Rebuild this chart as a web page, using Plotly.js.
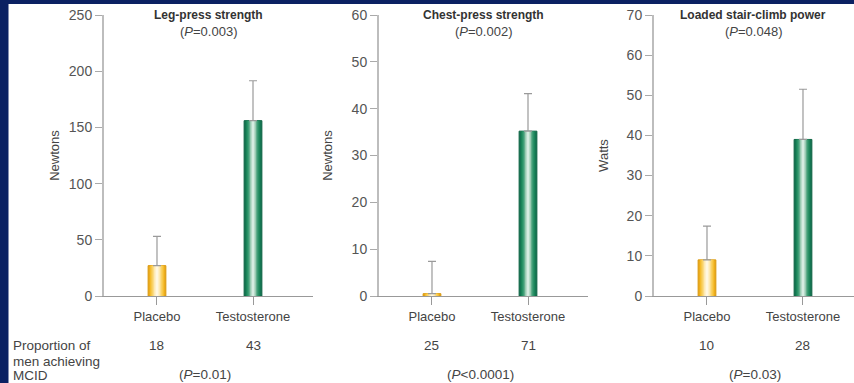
<!DOCTYPE html>
<html>
<head>
<meta charset="utf-8">
<script src="https://cdn.plot.ly/plotly-3.0.1.min.js"></script>
<style>html,body{margin:0;padding:0;background:#fff;}#chart{width:854px;height:383px;}</style>
</head>
<body>
<div id="chart"></div>
<script>
// ---- data ----
const groups = ['Placebo', 'Testosterone'];
const legPress = [27, 156];
const legPressErr = [26, 35.5];
const chestPress = [0.5, 35.2];
const chestPressErr = [6.9, 8];
const stairClimb = [9, 39];
const stairClimbErr = [8.4, 12.5];
const mcidLeg = ['18', '43'];
const mcidChest = ['25', '71'];
const mcidStair = ['10', '28'];
const panelTitles = ['Leg-press strength', 'Chest-press strength', 'Loaded stair-climb power'];
const panelP = ['(<i>P</i>=0.003)', '(<i>P</i>=0.002)', '(<i>P</i>=0.048)'];
const mcidP = ['(<i>P</i>=0.01)', '(<i>P</i><0.0001)', '(<i>P</i>=0.03)'];
const rowLabel = ['Proportion of', 'men achieving', 'MCID'];
const yTitles = ['Newtons', 'Newtons', 'Watts'];
const yMax = [250, 60, 70];
const yDtick = [50, 10, 10];

// ---- styling ----
const FONT = 'Liberation Sans, Arial, sans-serif';
const widths = [0.185, 0.15, 0.12, 0.09, 0.06, 0.03];
const yellow = ['#eaa91a', '#f5bd2e', '#f8cc55', '#fbdc88', '#fdebb8', '#fff7e0'];
const green  = ['#137250', '#1b8559', '#2f956b', '#62ae8c', '#a0ceb7', '#d6ece1'];
const standoffs = [6, 16, 15];

const panels = [
  {vals: legPress, err: legPressErr, mcid: mcidLeg},
  {vals: chestPress, err: chestPressErr, mcid: mcidChest},
  {vals: stairClimb, err: stairClimbErr, mcid: mcidStair}
];

const domains = [[104/854, 313/854], [379/854, 588/854], [654/854, 1]];
const ranges = [[-0.552, 1.625], [-0.552, 1.625], [-0.552, -0.552 + 200/96]];
const yDom = [87/383, 368/383];

const traces = [];
const layout = {
  width: 854, height: 383,
  margin: {l: 0, r: 0, t: 0, b: 0},
  paper_bgcolor: '#ffffff', plot_bgcolor: 'rgba(0,0,0,0)',
  barmode: 'overlay', showlegend: false,
  font: {family: FONT, color: '#444'},
  annotations: [],
  shapes: [
    {type: 'rect', xref: 'paper', yref: 'paper', x0: 0, x1: 8.5/854, y0: 0, y1: 1, fillcolor: '#0b2162', line: {width: 0}, layer: 'below'},
    {type: 'rect', xref: 'paper', yref: 'paper', x0: 0, x1: 1, y0: 379/383, y1: 1, fillcolor: '#0b2162', line: {width: 0}, layer: 'below'}
  ]
};

panels.forEach((p, i) => {
  const xa = 'x' + (i === 0 ? '' : i + 1);
  const ya = 'y' + (i === 0 ? '' : i + 1);
  widths.forEach((w, k) => {
    const tr = {
      type: 'bar', x: [0, 1], y: p.vals, xaxis: xa, yaxis: ya,
      width: [w, w],
      marker: {color: [yellow[k], green[k]], line: {width: k === 0 ? 1 : 0, color: ['#d9980f', '#0f6444']}},
      hoverinfo: 'skip'
    };
    if (k === widths.length - 1) {
      tr.error_y = {type: 'data', symmetric: false, array: p.err, arrayminus: [0, 0], color: '#9a9a9a', thickness: 1.2, width: 4};
    }
    traces.push(tr);
  });

  const xkey = 'xaxis' + (i === 0 ? '' : i + 1);
  const ykey = 'yaxis' + (i === 0 ? '' : i + 1);
  layout[xkey] = {
    domain: domains[i], range: ranges[i], anchor: ya,
    tickmode: 'array', tickvals: [0, 1], ticktext: groups,
    ticks: 'outside', ticklen: 8, tickcolor: '#999', tickwidth: 1,
    showline: true, linecolor: '#999', linewidth: 1.2,
    showgrid: false, zeroline: false, fixedrange: true,
    tickfont: {family: FONT, size: 13, color: '#444'}
  };
  layout[ykey] = {
    domain: yDom, range: [0, yMax[i]], anchor: xa,
    tickmode: 'linear', tick0: 0, dtick: yDtick[i],
    ticks: 'outside', ticklen: 7, tickcolor: '#aaa', tickwidth: 1,
    showline: true, linecolor: '#bdbdbd', linewidth: 2,
    showgrid: false, zeroline: false, fixedrange: true,
    tickfont: {family: FONT, size: 14, color: '#555'},
    title: {text: yTitles[i], font: {family: FONT, size: 13, color: '#444'}, standoff: standoffs[i]}
  };

  const cx = (domains[i][0] + domains[i][1]) / 2;
  const cxTitle = i === 2 ? (654 + 852) / 2 / 854 : cx;
  layout.annotations.push(
    {xref: 'paper', yref: 'paper', x: cxTitle, y: (383 - 14.7) / 383, text: '<b>' + panelTitles[i] + '</b>', showarrow: false, font: {family: FONT, size: 12, color: '#333'}, xanchor: 'center', yanchor: 'middle'},
    {xref: 'paper', yref: 'paper', x: cxTitle, y: (383 - 32) / 383, text: panelP[i], showarrow: false, font: {family: FONT, size: 13, color: '#444'}, xanchor: 'center', yanchor: 'middle'}
  );
  p.mcid.forEach((m, j) => {
    layout.annotations.push({xref: xa, yref: 'paper', x: j, y: (383 - 345.7) / 383, text: m, showarrow: false, font: {family: FONT, size: 13.5, color: '#444'}, xanchor: 'center', yanchor: 'middle'});
  });
  layout.annotations.push({xref: xa, yref: 'paper', x: 0.5, y: (383 - 374) / 383, text: mcidP[i], showarrow: false, font: {family: FONT, size: 13.5, color: '#444'}, xanchor: 'center', yanchor: 'middle'});
});

const rowY = [345.7, 361, 375];
rowLabel.forEach((t, r) => {
  layout.annotations.push({xref: 'paper', yref: 'paper', x: 11/854, y: (383 - rowY[r]) / 383, text: t, align: 'left', showarrow: false, font: {family: FONT, size: 13.5, color: '#444'}, xanchor: 'left', yanchor: 'middle'});
});

Plotly.newPlot('chart', traces, layout, {staticPlot: true, displayModeBar: false});
</script>
</body>
</html>
